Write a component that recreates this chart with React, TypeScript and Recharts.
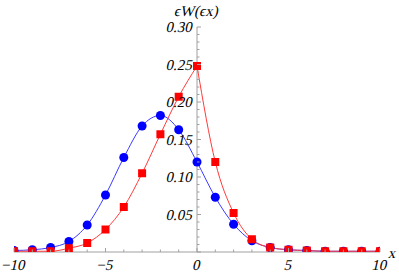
import React from 'react'
import { ComposedChart, Line, XAxis, YAxis, ReferenceLine } from 'recharts'

// sample points
const xs = [-10, -9, -8, -7, -6, -5, -4, -3, -2, -1, 0, 1, 2, 3, 4, 5, 6, 7, 8, 9, 10]
const blueVals = [0.002, 0.003, 0.006, 0.014, 0.036, 0.076, 0.126, 0.168, 0.182, 0.163, 0.12, 0.073, 0.037, 0.015, 0.006, 0.003, 0.002, 0.001, 0.001, 0.001, 0.001]
const redVals = [0.001, 0.001, 0.001, 0.005, 0.012, 0.03, 0.06, 0.105, 0.157, 0.207, 0.248, 0.12, 0.052, 0.017, 0.006, 0.003, 0.002, 0.001, 0.001, 0.001, 0.001]

const xTicks = [-10, -9, -8, -7, -6, -5, -4, -3, -2, -1, 0, 1, 2, 3, 4, 5, 6, 7, 8, 9, 10]
const yTicks = [0, 0.01, 0.02, 0.03, 0.04, 0.05, 0.06, 0.07, 0.08, 0.09, 0.1, 0.11, 0.12, 0.13, 0.14, 0.15, 0.16, 0.17, 0.18, 0.19, 0.2, 0.21, 0.22, 0.23, 0.24, 0.25, 0.26, 0.27, 0.28, 0.29, 0.3]

const W = 399
const H = 273
// axes get 1px each (an axis of size 0 is not drawn)
const M = { top: 27, right: 19, left: 13, bottom: 20 }
const X_MIN = -10
const X_MAX = 10
const PLOT_L = M.left + 1
const PLOT_W = W - PLOT_L - M.right
// pixel position of x = 0 (where the y axis sits)
const X0 = PLOT_L + (PLOT_W * (0 - X_MIN)) / (X_MAX - X_MIN)

// no italic face of Liberation Serif here, so slant the upright one
const txt = { fontFamily: '"Liberation Serif", serif', fontSize: 15 }
const AXIS = '#a0a0a0'

const data = xs.map((x, i) => ({
  x,
  blue: blueVals[i],
  red: redVals[i],
  redL: x <= 0 ? redVals[i] : null,
  redR: x >= 0 ? redVals[i] : null,
}))

const fmtX = (v: number) => (v < 0 ? '\u2212' + Math.abs(v) : String(v))

const Slanted = ({ x, y, anchor, children }: any) => (
  <text transform={`translate(${x},${y}) skewX(-13)`} textAnchor={anchor}
    dominantBaseline="central" style={txt} fill="#000">
    {children}
  </text>
)

const XTick = ({ x, payload }: any) => {
  const v = payload.value
  const major = v % 5 === 0
  const y = H - M.bottom - 1
  return (
    <g>
      <line x1={x} x2={x} y1={y} y2={y - (major ? 4 : 2.5)} stroke={AXIS} />
      {major && <Slanted x={x} y={y + 13} anchor="middle">{fmtX(v)}</Slanted>}
    </g>
  )
}

const YTick = ({ y, payload }: any) => {
  const v = payload.value
  const n = Math.round(v * 100)
  const major = n % 5 === 0
  return (
    <g>
      <line x1={X0} x2={X0 + (major ? 4 : 2.5)} y1={y} y2={y} stroke={AXIS} />
      {major && n !== 0 && <Slanted x={X0 - 4} y={y} anchor="end">{v.toFixed(2)}</Slanted>}
    </g>
  )
}

const YTitle = ({ viewBox }: any) => (
  <Slanted x={viewBox.x} y={viewBox.y - 16} anchor="middle">{'\u03F5W(\u03F5x)'}</Slanted>
)

const XTitle = ({ viewBox }: any) => (
  <Slanted x={viewBox.x + viewBox.width + 9} y={viewBox.y + 1} anchor="start">x</Slanted>
)

const BlueDot = ({ cx, cy, index }: any) => (
  <circle key={'b' + index} cx={cx} cy={cy} r={4.5} fill="#0000ff" />
)

const RedDot = ({ cx, cy, index }: any) => (
  <rect key={'r' + index} x={cx - 4} y={cy - 4} width={8} height={8} fill="#ff0000" />
)

export default function App() {
  return (
    <div style={{ position: 'absolute', left: 0, top: 0, width: W, height: H, background: '#fff' }}>
      <ComposedChart width={W} height={H} data={data} margin={M}>
        <XAxis type="number" dataKey="x" domain={[X_MIN, X_MAX]} ticks={xTicks} height={1}
          axisLine={false} tickLine={false} tickSize={0} tickMargin={0}
          tick={<XTick />} interval={0} allowDataOverflow />
        <YAxis type="number" domain={[0, 0.3]} ticks={yTicks} width={1}
          axisLine={false} tickLine={false} tickSize={0} tickMargin={0}
          tick={<YTick />} interval={0} allowDataOverflow />
        <ReferenceLine x={0} stroke={AXIS} label={<YTitle />} />
        <ReferenceLine y={0} stroke={AXIS} label={<XTitle />} />
        <Line type="monotone" dataKey="blue" stroke="#3a3aff" strokeWidth={1}
          dot={BlueDot} activeDot={false} isAnimationActive={false} />
        <Line type="monotone" dataKey="redL" stroke="#ff3a3a" strokeWidth={1}
          dot={false} activeDot={false} isAnimationActive={false} />
        <Line type="monotone" dataKey="redR" stroke="#ff3a3a" strokeWidth={1}
          dot={false} activeDot={false} isAnimationActive={false} />
        <Line type="monotone" dataKey="red" stroke="none" strokeWidth={0}
          dot={RedDot} activeDot={false} isAnimationActive={false} />
      </ComposedChart>
    </div>
  )
}
